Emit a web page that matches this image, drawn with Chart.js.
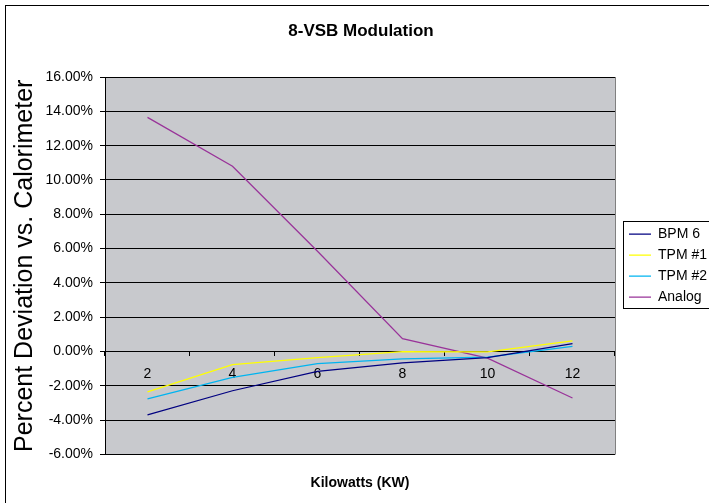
<!DOCTYPE html>
<html>
<head>
<meta charset="utf-8">
<script src="https://cdn.jsdelivr.net/npm/chart.js@4/dist/chart.umd.min.js"></script>
<style>
    html, body { margin: 0; padding: 0; background: #fff; }
    #wrap { width: 709px; height: 503px; }
</style>
</head>
<body>
<div id="wrap"><canvas id="chart" width="709" height="503"></canvas></div>
<script>
// Kilowatts on the x axis, percent deviation per meter on the y axis
const kilowatts = ["2", "4", "6", "8", "10", "12"];
const bpm6 = [-3.68, -2.28, -1.15, -0.65, -0.35, 0.47];
const tpm1 = [-2.34, -0.76, -0.35, 0.0, -0.02, 0.62];
const tpm2 = [-2.75, -1.5, -0.7, -0.42, -0.32, 0.3];
const analog = [13.65, 10.8, 5.85, 0.76, -0.38, -2.7];

const FONT = "'Liberation Sans', Arial, sans-serif";

// grey plot area, frame round the chart and box round the legend
const excelFrame = {
    id: "excelFrame",
    beforeDraw(chart) {
        const { ctx, chartArea: a } = chart;
        ctx.save();
        ctx.fillStyle = "#c8c9cd";
        ctx.fillRect(a.left, a.top, a.right - a.left, a.bottom - a.top);
        ctx.restore();
    },
    afterDraw(chart) {
        const { ctx, chartArea: a, legend } = chart;
        ctx.save();
        ctx.strokeStyle = "#000";
        ctx.lineWidth = 1;
        ctx.strokeRect(5.5, 5.5, 720, 520);
        ctx.strokeStyle = "#808080";
        ctx.beginPath();
        ctx.moveTo(Math.round(a.right) + 0.5, a.top);
        ctx.lineTo(Math.round(a.right) + 0.5, a.bottom);
        ctx.stroke();
        if (legend && legend.legendHitBoxes.length) {
            const boxes = legend.legendHitBoxes;
            const last = boxes[boxes.length - 1];
            const l = Math.round(legend.left + 1) + 0.5;
            const t = Math.round(boxes[0].top - 6) + 0.5;
            const b = Math.round(last.top + last.height + 4) + 0.5;
            ctx.strokeStyle = "#000";
            ctx.strokeRect(l, t, 720, b - t);
        }
        ctx.restore();
    },
};

const line = (label, data, color) => ({
    label,
    data,
    borderColor: color,
    backgroundColor: color,
    borderWidth: 1.25,
    pointRadius: 0,
    tension: 0,
    xAxisID: "x",
    yAxisID: "y",
});

new Chart(document.getElementById("chart"), {
    type: "line",
    data: {
        labels: kilowatts,
        datasets: [
            line("BPM 6", bpm6, "#000080"),
            line("TPM #1", tpm1, "#ffff00"),
            line("TPM #2", tpm2, "#00b4f0"),
            line("Analog", analog, "#993399"),
        ],
    },
    plugins: [excelFrame],
    options: {
        responsive: false,
        animation: false,
        layout: { padding: { left: 5, right: -8, top: 0, bottom: 11.6 } },
        plugins: {
            title: {
                display: true,
                text: "8-VSB Modulation",
                color: "#000",
                font: { family: FONT, size: 17, weight: "bold" },
                padding: { top: 20.8, bottom: 35.8 },
            },
            legend: {
                position: "right",
                title: { display: true, text: " ", font: { size: 14 }, padding: { top: 22.8, bottom: 0 } },
                labels: {
                    color: "#000",
                    font: { family: FONT, size: 14 },
                    usePointStyle: true,
                    pointStyle: "line",
                    pointStyleWidth: 22,
                    padding: 7,
                },
            },
            tooltip: { enabled: false },
        },
        scales: {
            x: {
                type: "category",
                position: { y: 0 },
                offset: true,
                grid: { offset: true, drawOnChartArea: false, drawTicks: true, tickLength: 4, color: "#000" },
                border: { display: true, color: "#000" },
                ticks: { color: "#000", font: { family: FONT, size: 14 }, padding: 10, maxRotation: 0 },
            },
            xTitle: {
                type: "category",
                position: "bottom",
                offset: true,
                grid: { display: false },
                border: { display: false },
                ticks: { display: false },
                title: {
                    display: true,
                    text: "Kilowatts (KW)",
                    color: "#000",
                    font: { family: FONT, size: 14, weight: "bold" },
                    padding: { top: 12, bottom: 0 },
                },
            },
            y: {
                min: -6,
                max: 16,
                afterFit(scale) { scale.width = 100; },
                grid: { color: "#000", tickLength: 5, drawTicks: true },
                border: { display: true, color: "#000" },
                ticks: {
                    stepSize: 2,
                    color: "#000",
                    padding: 7,
                    font: { family: FONT, size: 14 },
                    callback: (v) => v.toFixed(2) + "%",
                },
                title: {
                    display: true,
                    text: "Percent Deviation vs. Calorimeter",
                    color: "#000",
                    font: { family: FONT, size: 25 },
                    padding: { top: 5.5, bottom: 0 },
                },
            },
            // empty strip between the plot and the legend
            gap: {
                type: "linear",
                position: "right",
                grid: { display: false },
                border: { display: false },
                ticks: { display: false },
                afterFit(scale) { scale.width = 7; },
            },
        },
    },
});
</script>
</body>
</html>
